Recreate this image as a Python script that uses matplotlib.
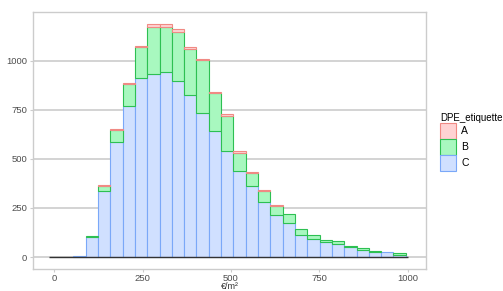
import numpy as np
import matplotlib
matplotlib.use("Agg")
import matplotlib.pyplot as plt
from matplotlib.patches import Patch

plt.rcParams['font.family'] = ['Liberation Sans', 'DejaVu Sans']

# histogram bins (eur/m2)
bin_start = -15.9
bin_width = 34.85
n_bins = 29

# counts per bin for each DPE label
count_c = [0, 0, 6, 100, 336, 584, 771, 914, 935, 941, 898, 824, 736, 640, 538,
           440, 362, 279, 213, 171, 110, 93, 76, 69, 49, 35, 27, 25, 12]
count_b = [0, 0, 0, 5, 24, 62, 109, 155, 239, 233, 249, 237, 266, 194, 183,
           91, 67, 58, 49, 50, 32, 19, 12, 12, 8, 9, 5, 0, 8]
count_a = [0, 0, 0, 0, 5, 7, 5, 5, 14, 14, 15, 10, 5, 7, 6,
           7, 4, 5, 2, 0, 0, 0, 0, 0, 0, 0, 0, 0, 0]
labels = ['A', 'B', 'C']

fills = {'A': '#ffd3d3', 'B': '#a8f8bf', 'C': '#d0e0ff'}
edges_col = {'A': '#f08a84', 'B': '#2dc052', 'C': '#7aa8f8'}

edges = bin_start + bin_width * np.arange(n_bins + 1)
left = edges[:-1]
c = np.array(count_c)
b = np.array(count_b)
a = np.array(count_a)

fig = plt.figure(figsize=(5.03, 2.91), dpi=100)
ax = fig.add_axes([0.0662, 0.0766, 0.7801, 0.8811])

# only draw non-empty bins, stacked C -> B -> A
stack = [('C', c, 0 * c), ('B', b, c), ('A', a, c + b)]
for k, vals, base in stack:
    m = vals > 0
    ax.bar(left[m], vals[m], bottom=base[m], width=bin_width, align='edge',
           color=fills[k], edgecolor=edges_col[k], linewidth=0.8, zorder=2)
ax.hlines(0, edges[0], edges[-1] + 5, color='#333333', linewidth=1, zorder=3)

ax.set_xlim(-59.4, 1051)
ax.set_ylim(-59.4, 1247)
ax.set_xticks([0, 250, 500, 750, 1000])
ax.set_yticks([0, 250, 500, 750, 1000])
ax.yaxis.grid(True, color='#c8c8c8', linewidth=1.1, zorder=0)
ax.set_axisbelow(True)
for s in ax.spines.values():
    s.set_color('#cccccc')
    s.set_linewidth(1)
ax.tick_params(length=2.5, width=0.8, color='#cccccc', labelsize=6.8,
               labelcolor='#4d4d4d', pad=2)
ax.tick_params(axis='x', pad=1.2)
ax.set_xlabel('€/m²', fontsize=6.5, color='#333333', labelpad=-0.9)

handles = [Patch(facecolor=fills[k], edgecolor=edges_col[k], linewidth=0.8) for k in labels]
leg = ax.legend(handles, labels, title='DPE_etiquette', loc='upper left',
                bbox_to_anchor=(1.026, 0.625), frameon=False, fontsize=7.5,
                title_fontsize=7, handlelength=1.55, handleheight=2.0,
                labelspacing=0.0, handletextpad=0.5, borderaxespad=0)
leg._legend_box.align = 'left'

fig.savefig('out.png', dpi=100)
